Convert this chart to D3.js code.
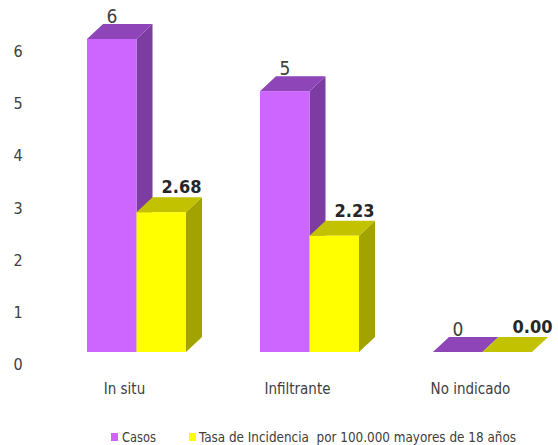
<!DOCTYPE html>
<html><head><meta charset="utf-8">
<script src="https://cdn.jsdelivr.net/npm/d3@7"></script>
<style>
body{margin:0;background:#fff;}
text{font-family:"Liberation Sans Narrow","DejaVu Sans Condensed","Liberation Sans",sans-serif;white-space:pre;}
</style></head>
<body><svg id="c" width="558" height="445"></svg>
<script>
const categories = ["In situ", "Infiltrante", "No indicado"];
const casos = [6, 5, 0];
const tasa = [2.68, 2.23, 0.00];
const yTicks = [0, 1, 2, 3, 4, 5, 6];
const seriesNames = ["Casos", "Tasa de Incidencia  por 100.000 mayores de 18 años"];

const svg = d3.select("#c");
const dx = 16, dy = 15;
const baseY = 352;
const y = d3.scaleLinear().domain([0, 6]).range([baseY, 39]);
const x = d3.scaleBand().domain(categories).range([50, 50 + 173 * 3]).paddingInner(0).paddingOuter(0);
const barW = 49.5;

const colors = {
  casos: {front: "#CC66FF", top: "#8E45B8", side: "#7D3CA2"},
  tasa: {front: "#FFFF00", top: "#C2C200", side: "#A3A300"}
};

// y axis labels
svg.append("g").selectAll("text").data(yTicks).join("text")
  .attr("x", 18).attr("y", d => y(d) + 18)
  .attr("text-anchor", "middle")
  .attr("font-size", 16).attr("fill", "#404040")
  .text(d => d);

function bar3d(g, x0, v, c) {
  const yt = y(v);
  g.append("path")
    .attr("d", `M${x0 + barW},${yt} L${x0 + barW + dx},${yt - dy} L${x0 + barW + dx},${baseY - dy} L${x0 + barW},${baseY} Z`)
    .attr("fill", c.side);
  g.append("path")
    .attr("d", `M${x0},${yt} L${x0 + dx},${yt - dy} L${x0 + barW + dx},${yt - dy} L${x0 + barW},${yt} Z`)
    .attr("fill", c.top);
  if (baseY - yt > 0) {
    g.append("rect").attr("x", x0).attr("y", yt).attr("width", barW).attr("height", baseY - yt)
      .attr("fill", c.front);
  }
}

const bars = svg.append("g");
categories.forEach((cat, i) => {
  const x0 = x(cat) + 37;
  bar3d(bars, x0, casos[i], colors.casos);
  bar3d(bars, x0 + barW, tasa[i], colors.tasa);
});

// value labels
categories.forEach((cat, i) => {
  const x0 = x(cat) + 37;
  svg.append("text")
    .attr("x", x0 + 25).attr("y", y(casos[i]) - dy - 1)
    .attr("text-anchor", "middle").attr("font-size", 19).attr("fill", "#404040")
    .text(d3.format("d")(casos[i]));
  svg.append("text")
    .attr("x", x0 + barW + (i === 2 ? 50 : 45)).attr("y", y(tasa[i]) - dy - 4)
    .attr("text-anchor", "middle").attr("font-size", 18).attr("font-weight", "bold").attr("fill", "#262626")
    .text(d3.format(".2f")(tasa[i]));
});

// category labels
svg.append("g").selectAll("text").data(categories).join("text")
  .attr("x", d => x(d) + 37 + barW - 12)
  .attr("y", 394)
  .attr("text-anchor", "middle").attr("font-size", 15).attr("fill", "#404040")
  .text(d => d);

// legend
const leg = svg.append("g");
leg.append("rect").attr("x", 111).attr("y", 433).attr("width", 7).attr("height", 8).attr("fill", colors.casos.front);
leg.append("text").attr("x", 122).attr("y", 442).attr("font-size", 14).attr("fill", "#404040")
  .attr("textLength", 34).attr("lengthAdjust", "spacingAndGlyphs").text(seriesNames[0]);
leg.append("rect").attr("x", 189).attr("y", 433).attr("width", 7).attr("height", 8).attr("fill", colors.tasa.front);
leg.append("text").attr("x", 199).attr("y", 442).attr("font-size", 14).attr("fill", "#404040")
  .attr("textLength", 317).attr("lengthAdjust", "spacingAndGlyphs").text(seriesNames[1]);
</script></body></html>
